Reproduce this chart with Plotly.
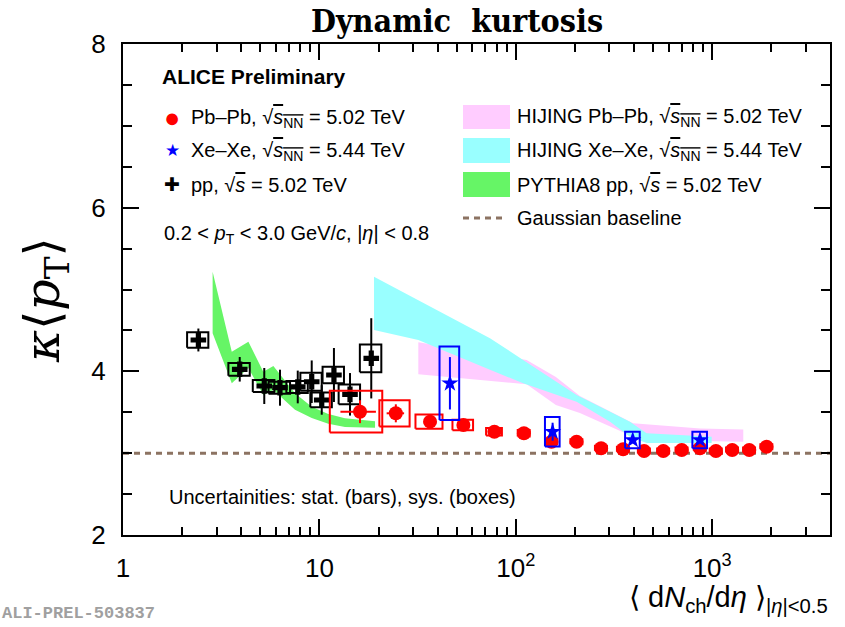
import plotly.graph_objects as go

# ---------------- data ----------------
# pp, sqrt(s) = 5.02 TeV
PP_X = [2.42, 3.93, 5.24, 6.30, 7.76, 9.14, 10.28, 11.86, 14.32, 18.37]
PP_Y = [4.383, 4.025, 3.821, 3.800, 3.809, 3.873, 3.650, 3.955, 3.719, 4.159]
PP_STAT = [0.14, 0.15, 0.22, 0.22, 0.20, 0.26, 0.18, 0.33, 0.26, 0.49]
PP_SYS_Y = [0.095, 0.078, 0.073, 0.073, 0.073, 0.11, 0.09, 0.10, 0.12, 0.17]
PP_SYS_X = [0.30, 0.49, 0.66, 0.79, 0.97, 1.14, 1.29, 1.48, 1.79, 2.30]

# Pb-Pb, sqrt(sNN) = 5.02 TeV
PBPB_X = [16.1, 24.5, 36.6, 54.1, 77.8, 110, 152, 204, 272, 352, 450, 564, 700, 867, 1045, 1265, 1545, 1892]
PBPB_Y = [3.507, 3.487, 3.385, 3.344, 3.262, 3.243, 3.140, 3.140, 3.060, 3.047, 3.027, 3.027, 3.039, 3.060, 3.027, 3.039, 3.039, 3.079]
PBPB_STAT_Y = [0.14, 0.11, 0.05, 0.04, 0.03, 0.03, 0.02, 0.02, 0.02, 0.02, 0.02, 0.02, 0.02, 0.02, 0.02, 0.02, 0.02, 0.02]
PBPB_STAT_X = [3.3, 2.5, 1.5, 1.5, 1.5, 2.0, 2.5, 3.0, 4.0, 5.0, 6.0, 7.0, 9.0, 11.0, 13.0, 16.0, 19.0, 24.0]
PBPB_SYS_Y = [0.255, 0.16, 0.088, 0.065, 0.045, 0.04, 0.03, 0.03, 0.03, 0.03, 0.03, 0.03, 0.03, 0.03, 0.03, 0.03, 0.03, 0.03]
PBPB_SYS_X = [4.8, 4.3, 5.75, 6.5, 7.2, 7.7, 10.6, 14.3, 19.0, 24.6, 31.5, 39.5, 49.0, 60.7, 73.2, 88.6, 108.2, 132.4]

# Xe-Xe, sqrt(sNN) = 5.44 TeV
XEXE_X = [46.2, 154, 394, 867]
XEXE_Y = [3.854, 3.262, 3.161, 3.161]
XEXE_STAT = [0.32, 0.11, 0.04, 0.04]
XEXE_SYS_Y = [0.45, 0.18, 0.10, 0.10]
XEXE_SYS_X = [5.3, 13.2, 33.7, 74.0]

# HIJING Pb-Pb band
HIJ_PB_X = [31.9, 113.6, 160, 212, 396, 870, 1440]
HIJ_PB_HI = [4.355, 4.14, 3.93, 3.70, 3.365, 3.30, 3.29]
HIJ_PB_LO = [3.964, 3.842, 3.59, 3.49, 3.20, 3.15, 3.14]

# HIJING Xe-Xe band
HIJ_XE_X = [18.97, 31.9, 73.9, 109, 204, 302, 381, 464, 994]
HIJ_XE_HI = [5.157, 4.869, 4.404, 4.139, 3.711, 3.507, 3.385, 3.243, 3.201]
HIJ_XE_LO = [4.505, 4.383, 4.020, 3.854, 3.629, 3.385, 3.201, 3.124, 3.124]

# PYTHIA8 pp band
PYT_X = [2.86, 3.58, 4.35, 5.18, 5.83, 7.51, 9.14, 11.1, 13.5, 19.2]
PYT_HI = [5.218, 4.240, 4.362, 3.996, 4.065, 3.732, 3.568, 3.479, 3.426, 3.390]
PYT_LO = [4.465, 3.854, 4.041, 3.711, 3.772, 3.530, 3.430, 3.360, 3.320, 3.310]

GAUSSIAN_BASELINE = 3.0

X_TICKS = [1, 10, 100, 1000]
X_TICKTEXT = ["1", "10", "10<sup>2</sup>", "10<sup>3</sup>"]
X_MINOR = [2, 3, 4, 5, 6, 7, 8, 9, 20, 30, 40, 50, 60, 70, 80, 90,
           200, 300, 400, 500, 600, 700, 800, 900, 2000, 3000]
Y_TICKS = [2, 4, 6, 8]

# ---------------- style ----------------
RED = "rgb(255,0,0)"
BLUE = "rgb(0,0,255)"
BLACK = "black"
PINK = "rgb(255,204,255)"
CYAN = "rgb(153,255,255)"
GREEN = "rgb(102,245,102)"
BASE_COL = "rgb(140,115,98)"
SANS = "Liberation Sans, Arial, Helvetica, sans-serif"

# plot area in pixels
W, H = 845, 627
L, R, T, B = 123, 15, 44, 92
PW, PH = W - L - R, H - T - B


def px(xp):
    return (xp - L) / PW


def py(yp):
    return (H - B - yp) / PH


def band(x, hi, lo, color):
    return go.Scatter(x=list(x) + list(x)[::-1], y=list(hi) + list(lo)[::-1],
                      fill="toself", fillcolor=color, mode="lines",
                      line=dict(width=0, color=color), hoverinfo="skip",
                      showlegend=False)


def boxes(x, y, ex, ey, color, width=2):
    bx, by = [], []
    for xi, yi, exi, eyi in zip(x, y, ex, ey):
        bx += [xi - exi, xi + exi, xi + exi, xi - exi, xi - exi, None]
        by += [yi - eyi, yi - eyi, yi + eyi, yi + eyi, yi - eyi, None]
    return go.Scatter(x=bx, y=by, mode="lines", line=dict(color=color, width=width),
                      hoverinfo="skip", showlegend=False)


fig = go.Figure()
fig.add_trace(band(HIJ_PB_X, HIJ_PB_HI, HIJ_PB_LO, PINK))
fig.add_trace(band(HIJ_XE_X, HIJ_XE_HI, HIJ_XE_LO, CYAN))
fig.add_trace(band(PYT_X, PYT_HI, PYT_LO, GREEN))

# pp
fig.add_trace(boxes(PP_X, PP_Y, PP_SYS_X, PP_SYS_Y, BLACK))
fig.add_trace(go.Scatter(x=PP_X, y=PP_Y, mode="markers",
                         marker=dict(symbol="cross", size=13, color=BLACK, line=dict(width=0)),
                         error_y=dict(type="data", array=PP_STAT, color=BLACK, thickness=2, width=0),
                         showlegend=False))
# Pb-Pb
fig.add_trace(boxes(PBPB_X, PBPB_Y, PBPB_SYS_X, PBPB_SYS_Y, RED))
fig.add_trace(go.Scatter(x=PBPB_X, y=PBPB_Y, mode="markers",
                         marker=dict(symbol="circle", size=14, color=RED, line=dict(width=0)),
                         error_y=dict(type="data", array=PBPB_STAT_Y, color=RED, thickness=2, width=0),
                         error_x=dict(type="data", array=PBPB_STAT_X, color=RED, thickness=2, width=0),
                         showlegend=False))
# Xe-Xe
fig.add_trace(boxes(XEXE_X, XEXE_Y, XEXE_SYS_X, XEXE_SYS_Y, BLUE))
fig.add_trace(go.Scatter(x=XEXE_X, y=XEXE_Y, mode="markers",
                         marker=dict(symbol="star", size=13, color=BLUE, line=dict(width=0)),
                         error_y=dict(type="data", array=XEXE_STAT, color=BLUE, thickness=2, width=0),
                         showlegend=False))

shapes = [
    dict(type="line", xref="paper", yref="y", x0=0, x1=1, y0=GAUSSIAN_BASELINE, y1=GAUSSIAN_BASELINE,
         line=dict(color=BASE_COL, width=3, dash="6px,5px"), layer="below"),
    # legend keys for bands
    dict(type="rect", xref="paper", yref="paper", x0=px(463), x1=px(510), y0=py(129), y1=py(105),
         fillcolor=PINK, line=dict(width=0)),
    dict(type="rect", xref="paper", yref="paper", x0=px(463), x1=px(510), y0=py(163), y1=py(138),
         fillcolor=CYAN, line=dict(width=0)),
    dict(type="rect", xref="paper", yref="paper", x0=px(463), x1=px(510), y0=py(197), y1=py(172),
         fillcolor=GREEN, line=dict(width=0)),
    dict(type="line", xref="paper", yref="paper", x0=px(463), x1=px(506), y0=py(218), y1=py(218),
         line=dict(color=BASE_COL, width=3, dash="6px,5px")),
]

SQRT_SNN = "√<span style='text-decoration:overline'><i>s</i><sub>NN</sub></span>"
SQRT_S = "√<span style='text-decoration:overline'><i>s</i></span>"

ann = []


def txt(x, y, s, size=20, color="black", family=SANS, xanchor="left", **kw):
    ann.append(dict(x=x, y=y, xref="paper", yref="paper", text=s, showarrow=False,
                    xanchor=xanchor, yanchor="middle", font=dict(size=size, color=color, family=family), **kw))


txt(px(160), py(76), "<b>ALICE Preliminary</b>", size=21)
txt(px(172), py(118), "●", size=27, color=RED, xanchor="center")
txt(px(172), py(150), "★", size=17, color=BLUE, xanchor="center")
txt(px(172), py(184), "✚", size=19, color=BLACK, xanchor="center")
txt(px(189), py(119), "Pb–Pb, " + SQRT_SNN + " = 5.02 TeV")
txt(px(189), py(151), "Xe–Xe, " + SQRT_SNN + " = 5.44 TeV")
txt(px(189), py(185), "pp, " + SQRT_S + " = 5.02 TeV")
txt(px(162), py(234), "0.2 &lt; <i>p</i><sub>T</sub> &lt; 3.0 GeV/<i>c</i>, |<i>η</i>| &lt; 0.8")
txt(px(515), py(118), "HIJING Pb–Pb, " + SQRT_SNN + " = 5.02 TeV")
txt(px(515), py(151), "HIJING Xe–Xe, " + SQRT_SNN + " = 5.44 TeV")
txt(px(515), py(185), "PYTHIA8 pp, " + SQRT_S + " = 5.02 TeV")
txt(px(515), py(218), "Gaussian baseline")
txt(px(167), py(497), "Uncertainities: stat. (bars), sys. (boxes)", size=20)

# axis titles
ann.append(dict(x=0, y=py(300), xref="paper", yref="paper", xshift=-78, showarrow=False,
                text="<i>κ</i>⟨<i>p</i><sub>T</sub>⟩", textangle=-90,
                font=dict(size=49, family="DejaVu Serif, serif", color="black"),
                xanchor="center", yanchor="middle"))
ann.append(dict(x=1, y=py(599), xref="paper", yref="paper", showarrow=False, xanchor="right", yanchor="middle",
                text="⟨ d<i>N</i><sub>ch</sub>/d<i>η</i> ⟩<sub>|<i>η</i>|&lt;0.5</sub>",
                font=dict(size=29, family=SANS, color="black")))
ann.append(dict(x=0, y=0, xref="paper", yref="paper", xshift=-L, yshift=-(B - 2), showarrow=False,
                xanchor="left", yanchor="bottom", text="<b>ALI-PREL-503837</b>",
                font=dict(size=17, family="Liberation Mono, DejaVu Sans Mono, monospace", color="rgb(160,160,160)")))

fig.update_layout(
    width=W, height=H, margin=dict(l=L, r=R, t=T, b=B),
    paper_bgcolor="white", plot_bgcolor="white",
    title=dict(text="<b>Dynamic  kurtosis</b>", x=px(457), xref="paper", xanchor="center",
               y=1 - 21 / H, yref="container", yanchor="middle",
               font=dict(size=32, family="DejaVu Serif Condensed, DejaVu Serif, serif", color="black")),
    annotations=ann, shapes=shapes, showlegend=False,
)
fig.update_xaxes(type="log", range=[0, 3.6], tickvals=X_TICKS, ticktext=X_TICKTEXT,
                 ticks="inside", ticklen=16, tickwidth=2, tickcolor="black",
                 showline=True, linewidth=2, linecolor="black", mirror="ticks",
                 showgrid=False, zeroline=False, ticklabelstandoff=9,
                 tickfont=dict(size=26, family=SANS, color="black"),
                 minor=dict(tickvals=X_MINOR, ticks="inside", ticklen=8, tickwidth=2, tickcolor="black",
                            showgrid=False))
fig.update_yaxes(range=[2, 8], tickvals=Y_TICKS,
                 ticks="inside", ticklen=16, tickwidth=2, tickcolor="black",
                 showline=True, linewidth=2, linecolor="black", mirror="ticks",
                 showgrid=False, zeroline=False, ticklabelstandoff=10,
                 tickfont=dict(size=26, family=SANS, color="black"),
                 minor=dict(dtick=0.5, ticks="inside", ticklen=9, tickwidth=2, tickcolor="black",
                            showgrid=False))

fig.write_html("out.html")
